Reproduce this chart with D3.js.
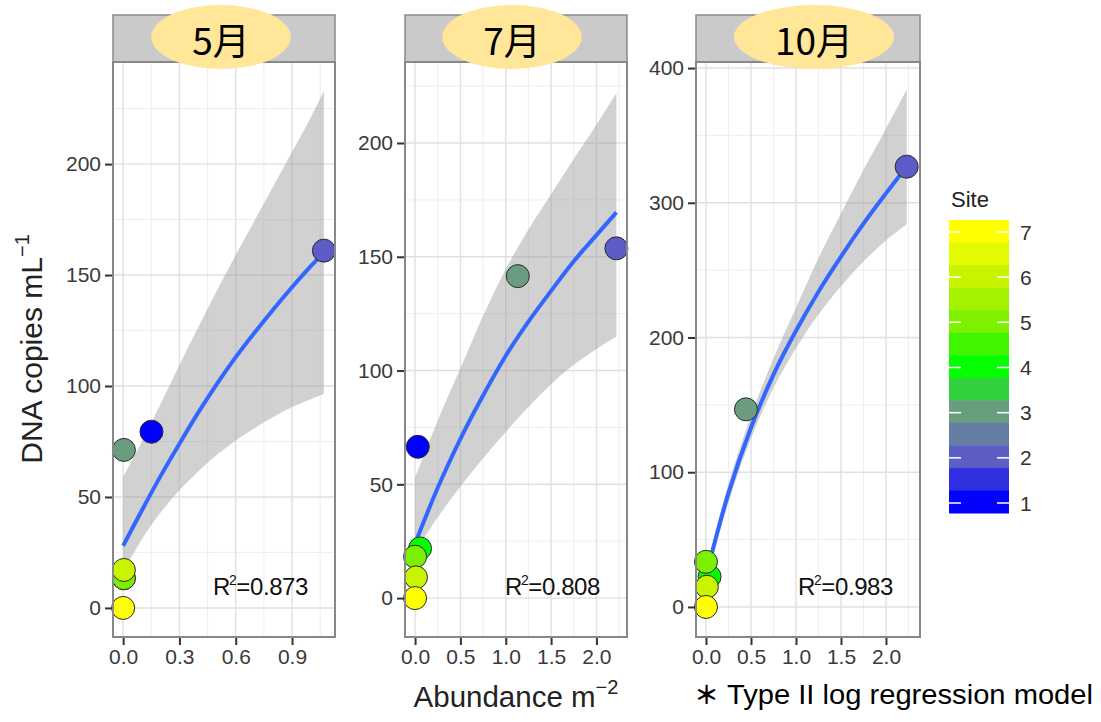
<!DOCTYPE html>
<html><head><meta charset="utf-8">
<script src="https://cdn.jsdelivr.net/npm/d3@7"></script>
<style>body{margin:0;background:#fff;} svg{display:block;}</style>
</head><body>
<svg id="chart" width="1101" height="722"></svg>
<script>
// ---------------- data ----------------
const months = ["5月", "7月", "10月"];
const siteLevels = [1, 2, 3, 4, 5, 6, 7];
const r2Values = ["0.873", "0.808", "0.983"];

// observed points
const maySite   = [1, 2, 3, 4, 5, 6, 7];
const mayAbund  = [0.151, 1.07, 0.004, 0.004, 0.004, 0.004, 0.0];
const mayCopies = [79.4, 161, 71.2, 13.4, 13.4, 17.1, 0];

const julSite   = [1, 2, 3, 4, 5, 6, 7];
const julAbund  = [0.03, 2.22, 1.133, 0.055, 0.0, 0.01, 0.0];
const julCopies = [66.5, 153.7, 141.5, 21.8, 18.2, 9.1, 0];

const octSite   = [2, 3, 4, 5, 6, 7];
const octAbund  = [2.23, 0.444, 0.04, 0.0, 0.01, 0.0];
const octCopies = [326.8, 146.7, 22.5, 33.5, 15, 0];

// fitted type II log regression curves and confidence bands
const mayFitX = [0, 0.1, 0.2, 0.3, 0.4, 0.5, 0.6, 0.7, 0.8, 0.9, 1.0, 1.07];
const mayFit  = [28, 44, 59.5, 74, 88, 101, 113, 124, 134.5, 144.5, 154, 160];
const mayHi   = [59, 75, 92, 109.5, 126.5, 143, 159, 174.5, 190, 205.5, 221, 233];
const mayLo   = [16, 31, 43, 53, 61.5, 69, 75.5, 81, 86, 90.5, 94, 96.5];

const julFitX = [0, 0.1, 0.25, 0.5, 0.75, 1.0, 1.25, 1.5, 1.75, 2.0, 2.22];
const julFit  = [24, 34, 48.5, 70, 89, 106.5, 121.5, 135, 148, 159.5, 169.5];
const julHi   = [53, 63, 78, 101, 124, 144.5, 162, 177.5, 193, 208, 222];
const julLo   = [20, 26.5, 35.5, 49, 61.5, 73, 84, 94, 102.5, 109.5, 115];

const octFitX = [0, 0.25, 0.5, 0.75, 1.0, 1.25, 1.5, 1.75, 2.0, 2.23];
const octFit  = [23, 84.5, 133, 172.5, 205, 234, 260, 284.5, 307, 327];
const octHi   = [28, 91.5, 142, 184.5, 222, 259, 292, 324.5, 355, 384];
const octLo   = [18, 77.5, 125, 162.5, 192, 217, 238, 256.5, 272, 284];

// axis ticks
const xTicksMay = [0, 0.3, 0.6, 0.9];
const xTicksJulOct = [0, 0.5, 1.0, 1.5, 2.0];
const yTicksMayJul = [0, 50, 100, 150, 200];
const yTicksOct = [0, 100, 200, 300, 400];

// scale limits (ggplot-style expanded ranges)
const xDomMay = [-0.054, 1.129], xDomJul = [-0.111, 2.337], xDomOct = [-0.111, 2.378];
const yDomMay = [-13.1, 246], yDomJul = [-17.1, 235.6], yDomOct = [-22.3, 404.5];

// ---------------- drawing ----------------
const svg = d3.select("#chart");
const W = 1101, H = 722;
svg.append("rect").attr("width", W).attr("height", H).attr("fill", "#fff");

const color = d3.scaleLinear()
  .domain(siteLevels)
  .range(["#0000ff", "#5c5cc6", "#6b9c80", "#00ff00", "#7cf000", "#c8f400", "#ffff00"])
  .clamp(true);

const panels = [
  {label: months[0], site: maySite, ax: mayAbund, cy: mayCopies, fx: mayFitX, fy: mayFit, hi: mayHi, lo: mayLo,
   r2: r2Values[0], xTicks: xTicksMay, yTicks: yTicksMayJul, xDom: xDomMay, yDom: yDomMay, step: [0.3, 50]},
  {label: months[1], site: julSite, ax: julAbund, cy: julCopies, fx: julFitX, fy: julFit, hi: julHi, lo: julLo,
   r2: r2Values[1], xTicks: xTicksJulOct, yTicks: yTicksMayJul, xDom: xDomJul, yDom: yDomJul, step: [0.5, 50]},
  {label: months[2], site: octSite, ax: octAbund, cy: octCopies, fx: octFitX, fy: octFit, hi: octHi, lo: octLo,
   r2: r2Values[2], xTicks: xTicksJulOct, yTicks: yTicksOct, xDom: xDomOct, yDom: yDomOct, step: [0.5, 100]}
];

const panelLeft = [113, 405, 696];
const panelWidth = [222, 222, 224];
const pTop = 62, pBottom = 637, stripTop = 15;
const FONT = "'Liberation Sans', Arial, Helvetica, sans-serif";

function minorValues(dom, step) {
  const h = step / 2, out = [];
  for (let k = Math.ceil(dom[0] / h); k <= Math.floor(dom[1] / h); k++) {
    if (Math.abs(k % 2) === 1) out.push(k * h);
  }
  return out;
}

const defs = svg.append("defs");
const smooth = d3.curveCatmullRom.alpha(0.5);

panels.forEach((p, i) => {
  const x0 = panelLeft[i], x1 = x0 + panelWidth[i];
  const x = d3.scaleLinear().domain(p.xDom).range([x0, x1]);
  const y = d3.scaleLinear().domain(p.yDom).range([pBottom, pTop]);
  const g = svg.append("g");

  defs.append("clipPath").attr("id", "clip" + i)
    .append("rect").attr("x", x0).attr("y", pTop).attr("width", x1 - x0).attr("height", pBottom - pTop);

  // strip
  g.append("rect").attr("x", x0).attr("y", stripTop).attr("width", x1 - x0).attr("height", pTop - stripTop)
    .attr("fill", "#cacaca").attr("stroke", "#8a8a8a").attr("stroke-width", 1.5);

  // panel background
  g.append("rect").attr("x", x0).attr("y", pTop).attr("width", x1 - x0).attr("height", pBottom - pTop)
    .attr("fill", "#fff");

  // grid
  const grid = g.append("g");
  minorValues(p.xDom, p.step[0]).forEach(v => grid.append("line")
    .attr("x1", x(v)).attr("x2", x(v)).attr("y1", pTop).attr("y2", pBottom)
    .attr("stroke", "#eeeeee").attr("stroke-width", 1));
  minorValues(p.yDom, p.step[1]).forEach(v => grid.append("line")
    .attr("y1", y(v)).attr("y2", y(v)).attr("x1", x0).attr("x2", x1)
    .attr("stroke", "#eeeeee").attr("stroke-width", 1));
  p.xTicks.forEach(v => grid.append("line")
    .attr("x1", x(v)).attr("x2", x(v)).attr("y1", pTop).attr("y2", pBottom)
    .attr("stroke", "#e0e0e0").attr("stroke-width", 1.4));
  p.yTicks.forEach(v => grid.append("line")
    .attr("y1", y(v)).attr("y2", y(v)).attr("x1", x0).attr("x2", x1)
    .attr("stroke", "#e0e0e0").attr("stroke-width", 1.4));

  const curveData = p.fx.map((v, j) => ({x: v, f: p.fy[j], lo: p.lo[j], hi: p.hi[j]}));
  const plot = g.append("g").attr("clip-path", `url(#clip${i})`);

  // confidence band
  plot.append("path").datum(curveData)
    .attr("d", d3.area().x(d => x(d.x)).y0(d => y(d.lo)).y1(d => y(d.hi)).curve(smooth))
    .attr("fill", "#999999").attr("fill-opacity", 0.45);

  // fitted line
  plot.append("path").datum(curveData)
    .attr("d", d3.line().x(d => x(d.x)).y(d => y(d.f)).curve(smooth))
    .attr("fill", "none").attr("stroke", "#3366ff").attr("stroke-width", 4);

  // points
  const pts = p.site.map((s, j) => ({s, x: p.ax[j], y: p.cy[j]}));
  g.selectAll("circle.pt").data(pts).join("circle")
    .attr("class", "pt")
    .attr("cx", d => x(d.x)).attr("cy", d => y(d.y)).attr("r", 11.5)
    .attr("fill", d => color(d.s)).attr("stroke", "#2a2a2a").attr("stroke-width", 1);

  // R² annotation
  const t = g.append("text").attr("x", x1 - 122).attr("y", 595)
    .attr("font-family", FONT).attr("font-size", 24).attr("fill", "#111")
    .attr("letter-spacing", -0.4);
  t.append("tspan").text("R");
  t.append("tspan").attr("font-size", 14).attr("dy", -10).attr("dx", -1).text("2");
  t.append("tspan").attr("dy", 10).text("=" + p.r2);

  // border
  g.append("rect").attr("x", x0).attr("y", pTop).attr("width", x1 - x0).attr("height", pBottom - pTop)
    .attr("fill", "none").attr("stroke", "#888888").attr("stroke-width", 2);

  // axes
  const ya = g.append("g").attr("transform", `translate(${x0 - 1},0)`)
    .call(d3.axisLeft(y).tickValues(p.yTicks).tickSize(7).tickPadding(4).tickFormat(d3.format("d")));
  const xa = g.append("g").attr("transform", `translate(0,${pBottom + 1})`)
    .call(d3.axisBottom(x).tickValues(p.xTicks).tickSize(7).tickPadding(4).tickFormat(d3.format(".1f")));
  [ya, xa].forEach(a => {
    a.select(".domain").remove();
    a.selectAll(".tick line").attr("stroke", "#333").attr("stroke-width", 2);
    a.selectAll(".tick text").attr("font-family", FONT).attr("font-size", 21).attr("fill", "#3a3a3a");
  });
});

// strip labels: yellow ellipses
panels.forEach((p, i) => {
  const cx = panelLeft[i] + panelWidth[i] / 2 + [-3, -4, 6][i];
  const g = svg.append("g");
  const el = g.append("ellipse").attr("cx", cx).attr("cy", 37).attr("ry", 32).attr("fill", "#ffe699");
  const txt = g.append("text").attr("x", cx).attr("y", 39)
    .attr("text-anchor", "middle").attr("dominant-baseline", "central")
    .attr("font-family", "'Noto Sans CJK JP', 'Noto Sans', sans-serif")
    .attr("font-size", 37).attr("fill", "#000").text(p.label);
  const w = txt.node().getComputedTextLength();
  el.attr("rx", w / 2 + 41);
});

// axis titles
const yt = svg.append("text").attr("transform", "translate(42,349) rotate(-90)")
  .attr("text-anchor", "middle").attr("font-family", FONT).attr("font-size", 30).attr("fill", "#222");
yt.append("tspan").text("DNA copies mL");
yt.append("tspan").attr("font-size", 20).attr("dy", -13).text("\u22121");

const xt = svg.append("text").attr("x", 516).attr("y", 707)
  .attr("text-anchor", "middle").attr("font-family", FONT).attr("font-size", 29.5).attr("fill", "#222");
xt.append("tspan").text("Abundance m");
xt.append("tspan").attr("font-size", 20).attr("dy", -13).text("\u22122");

// legend (colour bar)
const lg = svg.append("g");
lg.append("text").attr("x", 951).attr("y", 207).attr("font-family", FONT).attr("font-size", 22)
  .attr("fill", "#222").text("Site");
const barX = 949, barW = 60, barTop = 220, barBot = 513;
const ly = d3.scaleLinear().domain([7, 1]).range([232, 503]);
const nBins = 13;
const binH = (barBot - barTop) / nBins;
d3.range(nBins).forEach(k => {
  const yc = barTop + (k + 0.5) * binH;
  lg.append("rect").attr("x", barX).attr("y", barTop + k * binH).attr("width", barW).attr("height", binH + 0.5)
    .attr("fill", color(ly.invert(yc)));
});
siteLevels.forEach(s => {
  lg.append("line").attr("x1", barX).attr("x2", barX + 12).attr("y1", ly(s)).attr("y2", ly(s))
    .attr("stroke", "#fff").attr("stroke-width", 1.5);
  lg.append("line").attr("x1", barX + barW - 12).attr("x2", barX + barW).attr("y1", ly(s)).attr("y2", ly(s))
    .attr("stroke", "#fff").attr("stroke-width", 1.5);
  lg.append("text").attr("x", 1020).attr("y", ly(s)).attr("dominant-baseline", "central")
    .attr("font-family", FONT).attr("font-size", 21).attr("fill", "#333").text(s);
});

// footnote
svg.append("text").attr("x", 694).attr("y", 704).attr("font-family", "'Noto Sans CJK JP', sans-serif")
  .attr("font-size", 25).attr("font-weight", "bold").attr("fill", "#000").text("\uFF0A");
svg.append("text").attr("x", 727).attr("y", 704).attr("font-family", FONT).attr("font-size", 27)
  .attr("fill", "#000").attr("textLength", 366).attr("lengthAdjust", "spacingAndGlyphs")
  .text("Type II log regression model");
</script>
</body></html>
